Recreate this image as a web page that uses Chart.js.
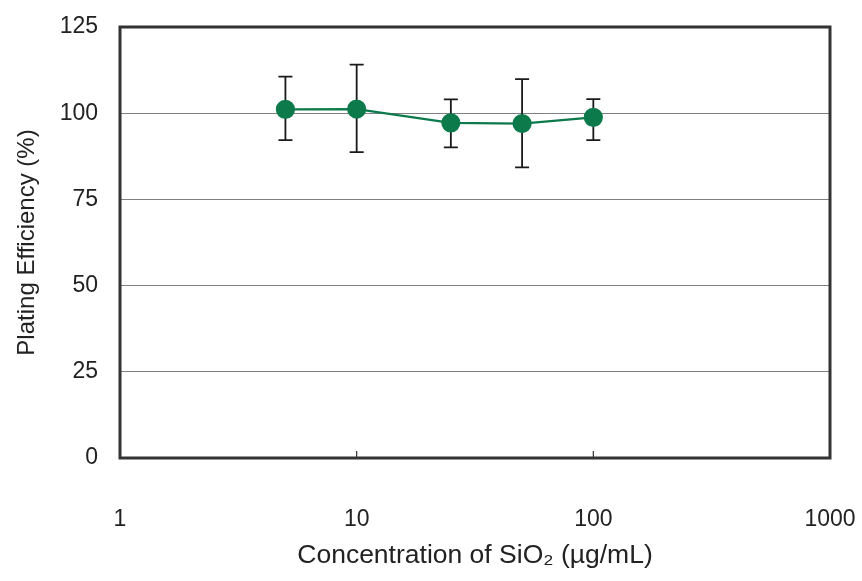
<!DOCTYPE html>
<html lang="en">

<head>
  <meta charset="UTF-8">
  <title>Plating Efficiency</title>
  <script src="https://cdn.jsdelivr.net/npm/chart.js"></script>
  <style>
    html, body { margin: 0; padding: 0; background: #fff; }
    .chart-container { position: relative; width: 862px; height: 581px; }
  </style>
</head>

<body>
  <div class="chart-container">
    <canvas id="grafico"></canvas>
  </div>

  <script>
    // datos
    const concentraciones = [5, 10, 25, 50, 100];
    const eficiencia = [101.1, 101.2, 97.2, 97.0, 98.8];
    const errorArriba = [9.5, 12.9, 6.8, 12.9, 5.3];
    const errorAbajo = [8.9, 12.5, 7.1, 12.7, 6.6];
    const ticksX = [1, 10, 100, 1000];
    const ticksY = [0, 25, 50, 75, 100, 125];

    const verde = '#0d7a4c';
    const fuente = "'Liberation Sans', Arial, sans-serif";

    // barras de error, marco y marcas internas del eje x
    const pluginExtras = {
      id: 'extras',
      beforeDatasetsDraw(chart) {
        const ctx = chart.ctx;
        const x = chart.scales.x, y = chart.scales.y;
        ctx.save();
        ctx.strokeStyle = '#1a1a1a';
        ctx.lineWidth = 1.8;
        concentraciones.forEach((c, i) => {
          const px = x.getPixelForValue(c);
          const top = y.getPixelForValue(eficiencia[i] + errorArriba[i]);
          const bot = y.getPixelForValue(eficiencia[i] - errorAbajo[i]);
          ctx.beginPath();
          ctx.moveTo(px, top); ctx.lineTo(px, bot);
          ctx.moveTo(px - 7, top); ctx.lineTo(px + 7, top);
          ctx.moveTo(px - 7, bot); ctx.lineTo(px + 7, bot);
          ctx.stroke();
        });
        ctx.restore();
      },
      afterDraw(chart) {
        const ctx = chart.ctx;
        const a = chart.chartArea;
        const x = chart.scales.x;
        ctx.save();
        ctx.strokeStyle = '#333';
        ctx.lineWidth = 1.2;
        ticksX.slice(1, -1).forEach(t => {
          const px = x.getPixelForValue(t);
          ctx.beginPath();
          ctx.moveTo(px, a.bottom); ctx.lineTo(px, a.bottom - 7);
          ctx.stroke();
        });
        ctx.lineWidth = 3;
        ctx.strokeRect(a.left, a.top, a.right - a.left, a.bottom - a.top);
        ctx.restore();
      }
    };

    new Chart(document.getElementById('grafico'), {
      type: 'line',
      data: {
        datasets: [{
          data: concentraciones.map((c, i) => ({ x: c, y: eficiencia[i] })),
          borderColor: verde,
          backgroundColor: verde,
          borderWidth: 2.2,
          pointRadius: 8.5,
          pointBackgroundColor: verde,
          pointBorderColor: verde,
          tension: 0
        }]
      },
      options: {
        responsive: true,
        maintainAspectRatio: false,
        animation: false,
        layout: { padding: { top: 27, right: 32, left: 0, bottom: 0 } },
        plugins: { legend: { display: false }, tooltip: { enabled: false } },
        scales: {
          x: {
            type: 'logarithmic',
            min: 1,
            max: 1000,
            afterFit: s => { s.height = 123; s.paddingLeft = 0; s.paddingRight = 0; },
            afterBuildTicks: s => { s.ticks = ticksX.map(v => ({ value: v })); },
            grid: { display: false, drawTicks: false },
            border: { display: false },
            ticks: {
              color: '#222',
              font: { family: fuente, size: 23 },
              padding: 48,
              maxRotation: 0,
              autoSkip: false,
              callback: v => String(v)
            },
            title: {
              display: true,
              text: 'Concentration of SiO\u2082 (\u00b5g/mL)',
              color: '#222',
              font: { family: fuente, size: 26.5 },
              padding: { top: 0, bottom: 9 }
            }
          },
          y: {
            min: 0,
            max: 125,
            afterFit: s => { s.width = 120; s.paddingTop = 0; s.paddingBottom = 0; },
            afterBuildTicks: s => { s.ticks = ticksY.map(v => ({ value: v })); },
            grid: { color: '#808080', lineWidth: 1, drawTicks: false },
            border: { display: false },
            ticks: {
              color: '#222',
              font: { family: fuente, size: 23 },
              padding: 22
            },
            title: {
              display: true,
              text: 'Plating Efficiency (%)',
              color: '#222',
              font: { family: fuente, size: 24 },
              padding: { top: 13, bottom: 0 }
            }
          }
        }
      },
      plugins: [pluginExtras]
    });
  </script>
</body>

</html>
